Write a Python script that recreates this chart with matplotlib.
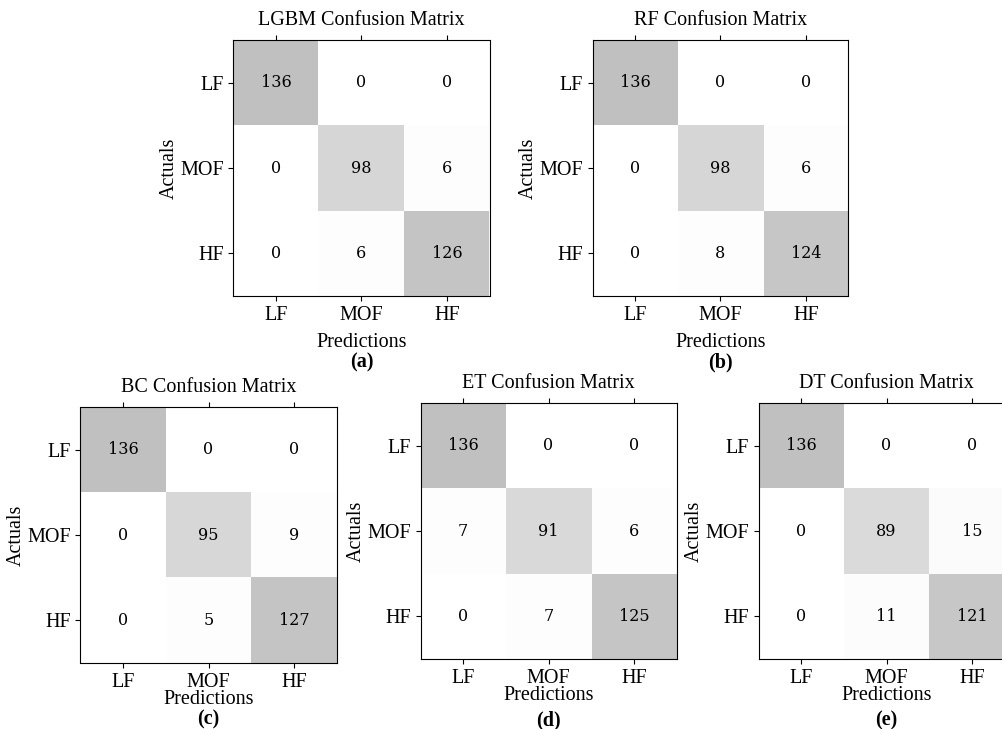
import numpy as np
import matplotlib.pyplot as plt

classes = ["LF", "MOF", "HF"]
models = ["LGBM", "RF", "BC", "ET", "DT"]
panel_tags = ["(a)", "(b)", "(c)", "(d)", "(e)"]

cm_lgbm = [[136, 0, 0], [0, 98, 6], [0, 6, 126]]
cm_rf = [[136, 0, 0], [0, 98, 6], [0, 8, 124]]
cm_bc = [[136, 0, 0], [0, 95, 9], [0, 5, 127]]
cm_et = [[136, 0, 0], [7, 91, 6], [0, 7, 125]]
cm_dt = [[136, 0, 0], [0, 89, 15], [0, 11, 121]]
matrices = [cm_lgbm, cm_rf, cm_bc, cm_et, cm_dt]

# panel placement in pixels: left, top, y of the (x) tag (figure is 1003 x 729)
W, H = 1003, 729
boxes = [(233, 40, 362), (592, 40, 362), (80, 407, 719), (420, 403, 720), (758, 403, 720)]
size_w, size_h = 257, 256

serif = ["Liberation Serif", "DejaVu Serif"]
fs = 14.5

fig = plt.figure(figsize=(W / 100, H / 100), dpi=100)

for k, (name, tag, cm) in enumerate(zip(models, panel_tags, matrices)):
    left, top, tag_y = boxes[k]
    ax = fig.add_axes([left / W, 1 - (top + size_h) / H, size_w / W, size_h / H])
    cm = np.array(cm)
    ax.matshow(cm, cmap=plt.cm.Greys, alpha=0.25)
    for i in range(cm.shape[0]):
        for j in range(cm.shape[1]):
            ax.text(j, i, str(cm[i, j]), va="center", ha="center",
                    family="DejaVu Serif", fontsize=11.5)
    ax.set_xticks(range(3))
    ax.set_yticks(range(3))
    ax.set_xticklabels(classes, family=serif, fontsize=fs)
    ax.set_yticklabels(classes, family=serif, fontsize=fs)
    ax.tick_params(axis="x", top=True, bottom=True, labeltop=False, labelbottom=True)
    ax.xaxis.set_label_position("bottom")
    top_row = k < 2
    ax.set_xlabel("Predictions", family=serif, fontsize=fs,
                  labelpad=6 if top_row else -1.5)
    ax.set_ylabel("Actuals", family=serif, fontsize=fs, labelpad=1)
    ax.set_title(f"{name} Confusion Matrix", family=serif, fontsize=fs, y=1.025)
    ax.text(0.5, -(tag_y - top - size_h) / size_h, tag, transform=ax.transAxes,
            ha="center", va="center", family=serif, fontsize=fs, fontweight="bold")

fig.savefig("out.png", dpi=100)
